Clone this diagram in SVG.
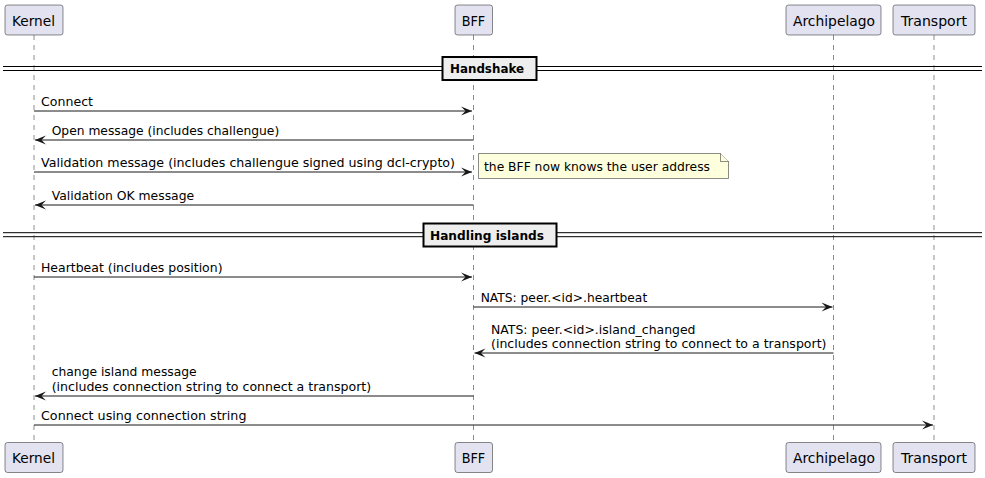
<svg xmlns="http://www.w3.org/2000/svg" width="985" height="478" viewBox="0 0 985 478">
<defs>
<style>
.p rect{fill:#E2E2F0;stroke:#181818;stroke-width:0.5}
.pt{font-family:"DejaVu Sans","Liberation Sans",sans-serif;font-size:14px;fill:#000}
.life{stroke:#181818;stroke-width:0.5;stroke-dasharray:5,5}
.msg{stroke:#181818;stroke-width:1;fill:none;marker-end:url(#ah)}
.mt{font-family:"DejaVu Sans","Liberation Sans",sans-serif;font-size:12.8px;fill:#000}
.dl{stroke:#000;stroke-width:1}
.db{fill:#EEEEEE;stroke:#000;stroke-width:2}
.dt{font-family:"DejaVu Sans","Liberation Sans",sans-serif;font-size:13px;font-weight:bold;fill:#000}
.note{fill:#FEFFDD;stroke:#181818;stroke-width:0.5}
</style>
<marker id="ah" markerUnits="userSpaceOnUse" markerWidth="14" markerHeight="12" refX="11" refY="4.5" orient="auto" overflow="visible">
<path d="M0,0 L11,4.5 L0,9 L4.5,4.5 Z" fill="#181818"/>
</marker>
</defs>
<rect width="985" height="478" fill="#FFFFFF"/>
<g id="lifelines">
<line class="life" x1="34" y1="35" x2="34" y2="442"/>
<line class="life" x1="473.5" y1="35" x2="473.5" y2="442"/>
<line class="life" x1="833.5" y1="35" x2="833.5" y2="442"/>
<line class="life" x1="934" y1="35" x2="934" y2="442"/>
</g>
<g id="Kernel" class="p">
<rect x="5" y="5" width="58" height="30" rx="2.5"/>
<text class="pt" x="12" y="25.5" textLength="43" lengthAdjust="spacingAndGlyphs">Kernel</text>
<rect x="5" y="442.5" width="58" height="30" rx="2.5"/>
<text class="pt" x="12" y="463" textLength="43" lengthAdjust="spacingAndGlyphs">Kernel</text>
</g>
<g id="BFF" class="p">
<rect x="455" y="5" width="37.5" height="30" rx="2.5"/>
<text class="pt" x="461.7" y="25.5" textLength="23.5" lengthAdjust="spacingAndGlyphs">BFF</text>
<rect x="455" y="442.5" width="37.5" height="30" rx="2.5"/>
<text class="pt" x="461.7" y="463" textLength="23.5" lengthAdjust="spacingAndGlyphs">BFF</text>
</g>
<g id="Archipelago" class="p">
<rect x="786" y="5" width="95" height="30" rx="2.5"/>
<text class="pt" x="793" y="25.5" textLength="82" lengthAdjust="spacingAndGlyphs">Archipelago</text>
<rect x="786" y="442.5" width="95" height="30" rx="2.5"/>
<text class="pt" x="793" y="463" textLength="82" lengthAdjust="spacingAndGlyphs">Archipelago</text>
</g>
<g id="Transport" class="p">
<rect x="893" y="5" width="82" height="30" rx="2.5"/>
<text class="pt" x="901" y="25.5" textLength="66" lengthAdjust="spacingAndGlyphs">Transport</text>
<rect x="893" y="442.5" width="82" height="30" rx="2.5"/>
<text class="pt" x="901" y="463" textLength="66" lengthAdjust="spacingAndGlyphs">Transport</text>
</g>
<g id="divider-handshake">
<line class="dl" x1="3" y1="66.5" x2="982" y2="66.5"/>
<line class="dl" x1="3" y1="70.5" x2="982" y2="70.5"/>
<rect class="db" x="442.5" y="57" width="94" height="23"/>
<text class="dt" x="450" y="73" textLength="74" lengthAdjust="spacingAndGlyphs">Handshake</text>
</g>
<g id="divider-islands">
<line class="dl" x1="3" y1="232.7" x2="982" y2="232.7"/>
<line class="dl" x1="3" y1="236.7" x2="982" y2="236.7"/>
<rect class="db" x="423.5" y="223.5" width="133" height="23"/>
<text class="dt" x="430" y="240" textLength="114" lengthAdjust="spacingAndGlyphs">Handling islands</text>
</g>
<g id="note">
<path class="note" d="M478.5,153.5 L720.5,153.5 L728.5,161.5 L728.5,178.5 L478.5,178.5 Z"/>
<path class="note" d="M720.5,153.5 L720.5,161.5 L728.5,161.5" fill="none"/>
<text class="mt" x="484" y="170.5" textLength="226" lengthAdjust="spacingAndGlyphs">the BFF now knows the user address</text>
</g>
<g id="connectors">
<line class="msg" x1="34" y1="111" x2="472" y2="111"/>
<line class="msg" x1="473.5" y1="140" x2="35" y2="140"/>
<line class="msg" x1="34" y1="172" x2="472" y2="172"/>
<line class="msg" x1="473.5" y1="205" x2="35" y2="205"/>
<line class="msg" x1="34" y1="277" x2="472" y2="277"/>
<line class="msg" x1="473.5" y1="307" x2="832.5" y2="307"/>
<line class="msg" x1="833.5" y1="353" x2="474.5" y2="353"/>
<line class="msg" x1="473.5" y1="396" x2="35" y2="396"/>
<line class="msg" x1="34" y1="425" x2="933" y2="425"/>
<text class="mt" x="41" y="106" textLength="52" lengthAdjust="spacingAndGlyphs">Connect</text>
<text class="mt" x="51.7" y="135" textLength="227.5" lengthAdjust="spacingAndGlyphs">Open message (includes challengue)</text>
<text class="mt" x="41" y="167" textLength="414" lengthAdjust="spacingAndGlyphs">Validation message (includes challengue signed using dcl-crypto)</text>
<text class="mt" x="51.7" y="200" textLength="142.5" lengthAdjust="spacingAndGlyphs">Validation OK message</text>
<text class="mt" x="41" y="272" textLength="181.5" lengthAdjust="spacingAndGlyphs">Heartbeat (includes position)</text>
<text class="mt" x="480.7" y="302" textLength="166.5" lengthAdjust="spacingAndGlyphs">NATS: peer.&lt;id&gt;.heartbeat</text>
<text class="mt" x="491" y="333.5" textLength="204.5" lengthAdjust="spacingAndGlyphs">NATS: peer.&lt;id&gt;.island_changed</text>
<text class="mt" x="491" y="348" textLength="335.5" lengthAdjust="spacingAndGlyphs">(includes connection string to connect to a transport)</text>
<text class="mt" x="51.7" y="376" textLength="145" lengthAdjust="spacingAndGlyphs">change island message</text>
<text class="mt" x="51.7" y="390.5" textLength="319.5" lengthAdjust="spacingAndGlyphs">(includes connection string to connect a transport)</text>
<text class="mt" x="41" y="420" textLength="205.5" lengthAdjust="spacingAndGlyphs">Connect using connection string</text>
</g>
</svg>
